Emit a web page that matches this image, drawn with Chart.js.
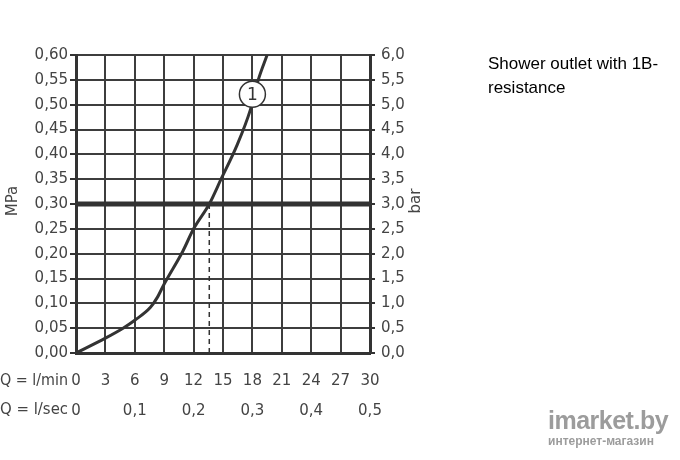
<!DOCTYPE html>
<html>
<head>
<meta charset="utf-8">
<script src="https://cdn.jsdelivr.net/npm/chart.js@4.4.1/dist/chart.umd.min.js"></script>
<style>
    body { margin: 0; background: #fff; }
    #wrap { position: relative; width: 680px; height: 460px; }
    #note {
        position: absolute; left: 488px; top: 52px;
        font: 17px "Liberation Sans", Arial, sans-serif; line-height: 24px; color: #000;
    }
    #logo {
        position: absolute; left: 548px; top: 406px; color: #9c9c9c;
        font-family: "Liberation Sans", Arial, sans-serif; font-weight: bold;
    }
    #logo .big { font-size: 25px; letter-spacing: -0.5px; line-height: 28px; }
    #logo .small { font-size: 12px; line-height: 14px; }
</style>
</head>
<body>
<div id="wrap">
    <canvas id="chart" width="680" height="460"></canvas>
    <div id="note">Shower outlet with 1B-<br>resistance</div>
    <div id="logo"><div class="big">imarket.by</div><div class="small">интернет-магазин</div></div>
</div>
<script>
// =========================
// Data
// =========================

const flowLpm     = [0, 3, 4.8, 6, 7.6, 8.3, 9, 10.9, 12, 13.6, 14.8, 16.4, 17.8, 18.6, 19.5];
const pressureMPa = [0, 0.03, 0.05, 0.066, 0.092, 0.112, 0.139, 0.205, 0.25, 0.30, 0.35, 0.417, 0.49, 0.55, 0.60];

const workPressure = 0.30;     // thick horizontal line
const workFlow = 13.6;         // dashed drop line
const curveLabel = "1";
const labelPoint = { x: 18, y: 0.521 };

const lpmTicks = { min: 0, max: 30, step: 3 };
const lpsTicks = { min: 0, max: 0.5, step: 0.1 };
const mpaTicks = { min: 0, max: 0.6, step: 0.05 };
const barTicks = { min: 0, max: 6, step: 0.5 };

// =========================
// Helpers
// =========================

const INK = "#333";
const GRID = "#3d3d3d";
const TXT = "#444";
const FONT = "'DejaVu Sans', sans-serif";

const comma = (v, d) => v.toFixed(d).replace(".", ",");

const extraText = {
    id: "extraText",
    afterDraw(chart) {
        const ctx = chart.ctx;
        const x = chart.scales.x, x2 = chart.scales.x2;
        ctx.save();
        ctx.fillStyle = TXT;
        ctx.font = "15px " + FONT;
        ctx.textBaseline = "middle";
        ctx.textAlign = "left";
        ctx.fillText("Q = l/min", 0, x.top + 28, 68);
        ctx.fillText("Q = l/sec", 0, x2.top + 18, 68);

        // axis titles
        const midY = 201;
        ctx.textAlign = "center";
        ctx.translate(13, midY);
        ctx.rotate(-Math.PI / 2);
        ctx.fillText("MPa", 0, 0);
        ctx.restore();

        ctx.save();
        ctx.fillStyle = TXT;
        ctx.font = "15px " + FONT;
        ctx.textBaseline = "middle";
        ctx.textAlign = "center";
        ctx.translate(416, midY);
        ctx.rotate(-Math.PI / 2);
        ctx.fillText("bar", 0, 0);
        ctx.restore();

        // curve label number
        const pt = chart.getDatasetMeta(3).data[0];
        ctx.save();
        ctx.fillStyle = INK;
        ctx.font = "17px " + FONT;
        ctx.textAlign = "center";
        ctx.textBaseline = "middle";
        ctx.fillText(curveLabel, pt.x, pt.y + 1);
        ctx.restore();
    }
};

// =========================
// Chart
// =========================

new Chart(document.getElementById("chart"), {
    type: "line",
    data: {
        datasets: [
            {
                data: flowLpm.map((q, i) => ({ x: q, y: pressureMPa[i] })),
                borderColor: INK, borderWidth: 3, pointRadius: 0,
                cubicInterpolationMode: "monotone", order: 2
            },
            {
                data: [{ x: lpmTicks.min, y: workPressure }, { x: lpmTicks.max, y: workPressure }],
                borderColor: INK, borderWidth: 5, pointRadius: 0, order: 3
            },
            {
                data: [{ x: workFlow, y: workPressure }, { x: workFlow, y: 0 }],
                borderColor: INK, borderWidth: 1.5, borderDash: [5, 4], pointRadius: 0, order: 4
            },
            {
                data: [labelPoint],
                showLine: false, pointRadius: 13, pointBackgroundColor: "#fff",
                pointBorderColor: INK, pointBorderWidth: 1.5, order: 1
            }
        ]
    },
    options: {
        responsive: false,
        animation: false,
        layout: { padding: { top: 55, left: 0, right: 250, bottom: 38 } },
        plugins: { legend: { display: false }, tooltip: { enabled: false } },
        scales: {
            x: {
                type: "linear", position: "bottom", weight: 1,
                min: lpmTicks.min, max: lpmTicks.max,
                afterFit: s => { s.height = 39; },
                grid: { color: GRID, lineWidth: 2, drawTicks: false },
                border: { color: INK, width: 3 },
                ticks: {
                    stepSize: lpmTicks.step, padding: 19, color: TXT,
                    font: { family: FONT, size: 15 }, maxRotation: 0
                }
            },
            x2: {
                type: "linear", position: "bottom", weight: 2,
                min: lpsTicks.min, max: lpsTicks.max,
                afterFit: s => { s.height = 30; },
                grid: { display: false },
                border: { display: false },
                ticks: {
                    stepSize: lpsTicks.step, padding: 2, color: TXT,
                    font: { family: FONT, size: 15 }, maxRotation: 0,
                    callback: v => v === 0 ? "0" : comma(v, 1)
                }
            },
            y: {
                type: "linear", position: "left",
                min: mpaTicks.min, max: mpaTicks.max,
                afterFit: s => { s.width = 76; },
                grid: { color: GRID, lineWidth: 2, tickLength: 6, tickColor: INK },
                border: { color: INK, width: 3 },
                ticks: {
                    stepSize: mpaTicks.step, padding: 2, color: TXT,
                    font: { family: FONT, size: 15 },
                    callback: v => comma(v, 2)
                }
            },
            y2: {
                type: "linear", position: "right",
                min: barTicks.min, max: barTicks.max,
                afterFit: s => { s.width = 60; },
                grid: { drawOnChartArea: false, lineWidth: 2, tickLength: 5, color: INK },
                border: { color: INK, width: 3 },
                ticks: {
                    stepSize: barTicks.step, padding: 6, color: TXT,
                    font: { family: FONT, size: 15 },
                    callback: v => comma(v, 1)
                }
            }
        }
    },
    plugins: [extraText]
});
</script>
</body>
</html>
